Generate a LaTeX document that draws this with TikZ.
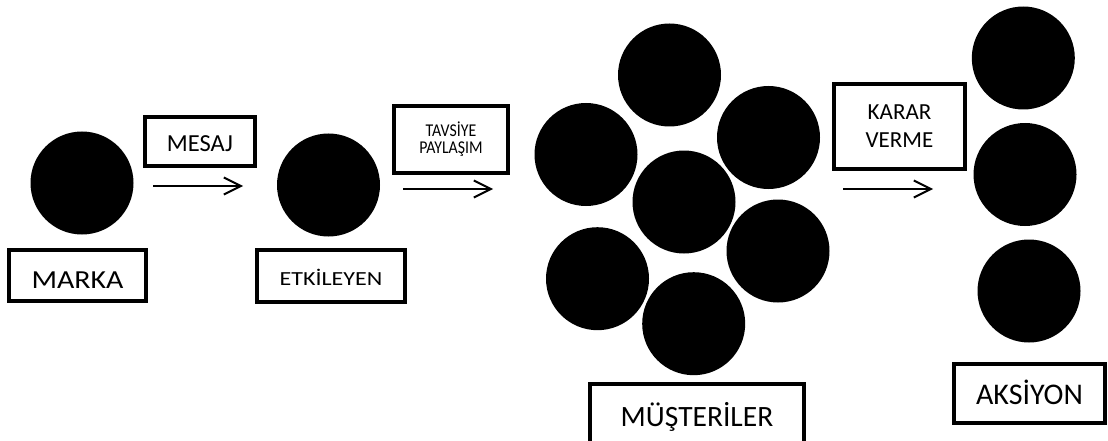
\documentclass[tikz,border=0pt]{standalone}
\usepackage{fontspec}
\setmainfont{Carlito}
\newfontfamily\fwa[FakeStretch=1.15]{Carlito}
\newfontfamily\fwb[FakeStretch=1.2]{Carlito}
\newfontfamily\fwc[FakeStretch=0.88]{Carlito}
\usetikzlibrary{arrows.meta}
\begin{document}
\begin{tikzpicture}[x=1pt,y=-1pt,
  dot/.style={circle,fill=black,minimum size=103pt,inner sep=0pt},
  lbl/.style={draw=black,line width=4pt,rectangle,inner sep=0pt,align=center},
  flow/.style={line width=2pt,-{Straight Barb[length=17pt,width=17pt,line width=2pt]}}]
\useasboundingbox (0,0) rectangle (1108,441);
% circles
\node[dot] (marka) at (82,183) {};
\node[dot] (etk) at (328.5,185) {};
\node[dot] (m1) at (669.5,75) {};
\node[dot] (m2) at (586,154.5) {};
\node[dot] (m3) at (768.5,137.5) {};
\node[dot] (m4) at (684,202) {};
\node[dot] (m5) at (597.5,278.7) {};
\node[dot] (m6) at (778,251) {};
\node[dot] (m7) at (693.7,323.7) {};
\node[dot] (a1) at (1023.3,58) {};
\node[dot] (a2) at (1025,174.5) {};
\node[dot] (a3) at (1029,291) {};
% labels
\node[lbl,minimum width=137pt,minimum height=51pt,text height=25.7pt,text depth=0pt,font=\fwa\fontsize{26}{31}\selectfont] (markabox) at (77.5,275.5) {MARKA};
\node[lbl,minimum width=110pt,minimum height=49pt,text height=19.8pt,text depth=0pt,font=\fontsize{24.5}{29}\selectfont] (mesaj) at (200,141.5) {MESAJ};
\node[lbl,minimum width=148pt,minimum height=52pt,text height=18.9pt,text depth=0pt,font=\fwb\fontsize{20}{24}\selectfont] (etkbox) at (331,276) {ETKİLEYEN};
\node[lbl,minimum width=114pt,minimum height=67pt,font=\fwc\fontsize{18}{17}\selectfont] (tavsiye) at (451,139.5) {TAVSİYE\\PAYLAŞIM};
\node[lbl,minimum width=131pt,minimum height=85pt,font=\fontsize{23}{28}\selectfont] (karar) at (899.5,126.5) {KARAR\\VERME};
\node[lbl,minimum width=214pt,minimum height=61pt,text height=24pt,text depth=0pt,font=\fontsize{29.5}{34}\selectfont] (must) at (697,414.5) {MÜŞTERİLER};
\node[lbl,minimum width=151pt,minimum height=59pt,text height=22.3pt,text depth=0pt,font=\fontsize{30}{35}\selectfont] (aksiyon) at (1029.5,393.5) {AKSİYON};
% arrows
\coordinate (s1) at (153,186); \coordinate (e1) at (243,186);
\coordinate (s2) at (403,189); \coordinate (e2) at (493,189);
\coordinate (s3) at (843,189); \coordinate (e3) at (933,189);
\draw[flow] (s1) -- (e1);
\draw[flow] (s2) -- (e2);
\draw[flow] (s3) -- (e3);
\end{tikzpicture}
\end{document}
